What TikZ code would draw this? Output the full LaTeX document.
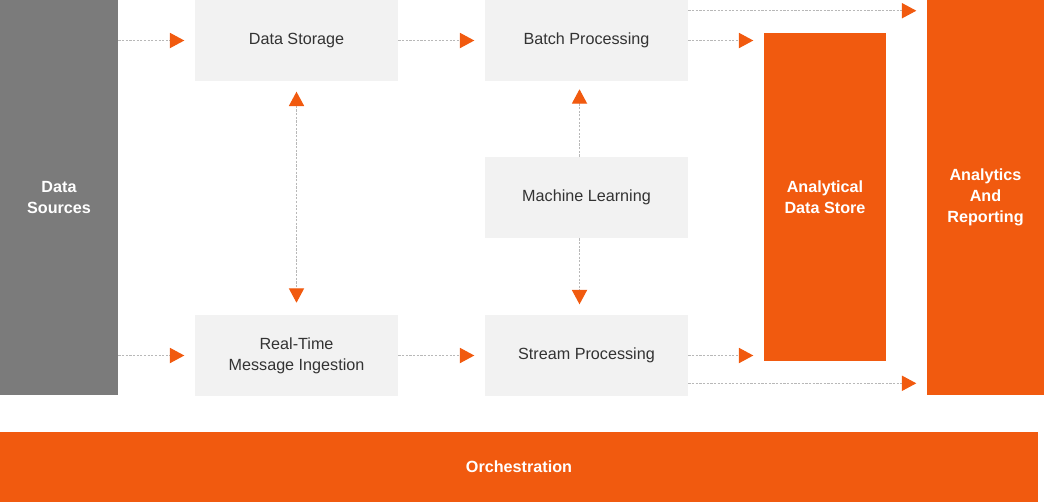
\documentclass[tikz,border=0pt]{standalone}
\usepackage{fontspec}
\setmainfont{Liberation Sans}
\usepackage{tikz}
\usetikzlibrary{arrows.meta,positioning}
\definecolor{naranjaBD}{HTML}{F15A0F}
\definecolor{grisFuente}{HTML}{7B7B7B}
\definecolor{grisCaja}{HTML}{F2F2F2}
\definecolor{grisLinea}{HTML}{B8B8B8}
\definecolor{grisTexto}{HTML}{333333}

\begin{document}
\begin{tikzpicture}[
      x=0.025cm, y=-0.025cm,
      source/.style = {rectangle, minimum width=2.95cm, minimum height=9.875cm,
          fill=grisFuente, text=white, font=\fontsize{11.5}{15}\selectfont\bfseries},
      stage/.style  = {rectangle, minimum width=5.075cm, minimum height=2.025cm,
          fill=grisCaja, text=grisTexto, font=\fontsize{11.5}{15}\selectfont},
      sink/.style   = {rectangle, fill=naranjaBD, text=white,
          font=\fontsize{11.5}{15}\selectfont\bfseries},
      tip/.tip      = {Triangle[length=0.36cm,width=0.38cm,color=naranjaBD]},
      link/.style   = {-tip, color=grisLinea,
          line width=0.8pt, dash pattern=on 1.6pt off 1pt, shorten >=0.26cm},
      every node/.style={align=center, inner sep=0pt},
    ]
    \useasboundingbox (0,0) rectangle (1044,502);

    % ── Fuentes y etapas ─────────────────────────────────────────
    \node[source] (src)    at (59,197.5)    {Data\\Sources};
    \node[stage]  (store)  at (296.5,40.5)  {Data Storage};
    \node[stage]  (batch)  at (586.5,40.5)  {Batch Processing};
    \node[stage]  (ml)     at (586.5,197.5) {Machine Learning};
    \node[stage]  (ingest) at (296.5,355.5) {Real-Time\\Message Ingestion};
    \node[stage]  (stream) at (586.5,355.5) {Stream Processing};

    % ── Destinos ─────────────────────────────────────────────────
    \node[sink,minimum width=3.05cm,minimum height=8.2cm]   (ads) at (825,197)   {Analytical\\Data Store};
    \node[sink,minimum width=2.925cm,minimum height=9.875cm] (rep) at (985.5,197.5) {Analytics\\And\\Reporting};
    \node[sink,minimum width=25.95cm,minimum height=1.75cm]  (orch) at (519,467) {Orchestration};

    % ── Flujos ───────────────────────────────────────────────────
    \draw[link] (src.east |- store) -- (store);
    \draw[link] (src.east |- ingest) -- (ingest);
    \draw[link] (store) -- (batch);
    \draw[link] (ingest) -- (stream);
    \draw[link] (batch.east) -- (batch.east -| ads.west);
    \draw[link] (stream.east) -- (stream.east -| ads.west);
    \coordinate (bt) at ([yshift=-0.275cm]batch.north east);
    \coordinate (st) at ([yshift=0.325cm]stream.south east);
    \draw[link] (bt) -- (bt -| rep.west);
    \draw[link] (st) -- (st -| rep.west);
    \draw[link,tip-tip,shorten <=0.26cm, shorten >=0.3cm] (store) -- (ingest);
    \draw[link,shorten >=0.2cm] ([xshift=-0.175cm]ml.north) -- ([xshift=-0.175cm]batch.south);
    \draw[link] ([xshift=-0.175cm]ml.south) -- ([xshift=-0.175cm]stream.north);

  \end{tikzpicture}
\end{document}
